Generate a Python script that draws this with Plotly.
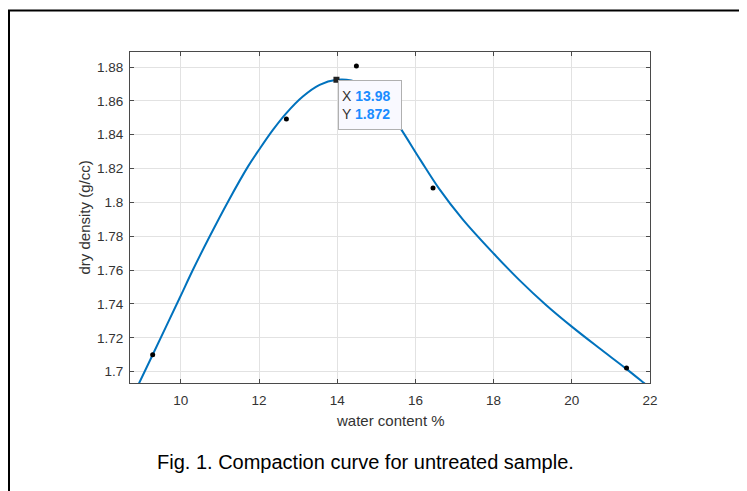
import plotly.graph_objects as go

# Fitted compaction curve
curve_x = [8.80, 8.935, 9.28, 9.97, 10.31, 10.74, 11.21, 11.72, 12.0, 12.36, 12.70,
           13.12, 13.55, 13.98, 14.36, 14.70, 15.0, 15.3, 15.64, 16.13, 16.60, 17.21,
           18.0, 18.66, 19.34, 20.0, 20.69, 21.37, 21.84, 22.0]
curve_y = [1.6868, 1.6933, 1.7100, 1.7435, 1.7602, 1.7800, 1.8006, 1.8213, 1.8311, 1.8430, 1.8528,
           1.8626, 1.8695, 1.8725, 1.8721, 1.8690, 1.8630, 1.8545, 1.8430, 1.8250, 1.8083, 1.7900,
           1.7698, 1.7541, 1.7394, 1.7266, 1.7141, 1.7021, 1.6934, 1.6904]

# Measured points
point_x = [9.28, 12.70, 14.49, 16.45, 21.40]
point_y = [1.7100, 1.8493, 1.8807, 1.8085, 1.7022]

# Data tip
tip_x = 13.98
tip_y = 1.872

x_ticks = [10, 12, 14, 16, 18, 20, 22]
x_ticktext = ["10", "12", "14", "16", "18", "20", "22"]
y_ticks = [1.70, 1.72, 1.74, 1.76, 1.78, 1.80, 1.82, 1.84, 1.86, 1.88]
y_ticktext = ["1.7", "1.72", "1.74", "1.76", "1.78", "1.8", "1.82", "1.84", "1.86", "1.88"]

x_title = "water content %"
y_title = "dry density (g/cc)"
caption = "Fig. 1. Compaction curve for untreated sample."

FONT = "Liberation Sans, Arial, Helvetica, sans-serif"
AXC = "#4a4a4a"

# page body has an 8px margin; figure is sized/offset to compensate
W, H = 739, 483
L, R, T, B = 122, 97, 44, 108
PW, PH = W - L - R, H - T - B

fig = go.Figure()
fig.add_trace(go.Scatter(x=curve_x, y=curve_y, mode="lines",
                         line=dict(color="#0072BD", width=2, shape="spline", smoothing=1.0),
                         hoverinfo="skip", showlegend=False))
fig.add_trace(go.Scatter(x=point_x, y=point_y, mode="markers",
                         marker=dict(color="black", size=5), showlegend=False))
fig.add_trace(go.Scatter(x=[tip_x], y=[1.8725], mode="markers",
                         marker=dict(color="#222", size=6, symbol="square"), showlegend=False))

axis_common = dict(showline=True, linecolor=AXC, linewidth=1, mirror="ticks", ticks="inside",
                   ticklen=4, tickcolor=AXC, showgrid=True, gridcolor="#e2e2e2", gridwidth=1,
                   zeroline=False, tickfont=dict(family=FONT, size=13.5, color="#333333"))

fig.update_xaxes(range=[8.7, 22], tickvals=x_ticks, ticktext=x_ticktext, ticklabelstandoff=5,
                 **axis_common)
fig.update_yaxes(range=[1.6933, 1.8889], tickvals=y_ticks, ticktext=y_ticktext, ticklabelstandoff=3,
                 **axis_common)

# Data tip box
fig.add_annotation(x=tip_x, y=1.8725, xref="x", yref="y", xanchor="left", yanchor="top",
                   xshift=1.5, showarrow=False, align="left", width=56, height=42,
                   borderpad=3, bordercolor="#b0b0b0", borderwidth=1, bgcolor="#f9f9ff",
                   text=("<span style='color:#333333'>X </span><b style='color:#1a8cff'>%.2f</b><br>"
                         "<span style='color:#333333'>Y </span><b style='color:#1a8cff'>%.3f</b>")
                   % (tip_x, tip_y),
                   font=dict(family=FONT, size=14))

# Axis titles
fig.add_annotation(x=0.5, y=-37.4 / PH, xref="paper", yref="paper", showarrow=False,
                   text=x_title, xanchor="center", yanchor="middle",
                   font=dict(family=FONT, size=15, color="#333333"))
fig.add_annotation(x=-46 / PW, y=0.5, xref="paper", yref="paper", showarrow=False,
                   text=y_title, textangle=-90, xanchor="center", yanchor="middle",
                   font=dict(family=FONT, size=15, color="#333333"))

# Caption
fig.add_annotation(x=235 / PW, y=-79.4 / PH, xref="paper", yref="paper", showarrow=False,
                   text=caption, xanchor="center", yanchor="middle",
                   font=dict(family=FONT, size=20, color="black"))

# Outer frame
fig.add_shape(type="rect", xref="paper", yref="paper",
              x0=(1 - L) / PW, x1=(735 - L) / PW,
              y0=-(H + 30 - (T + PH)) / PH, y1=(T + PH - 2.5) / PH,
              line=dict(color="black", width=2), fillcolor="rgba(0,0,0,0)", layer="above")

fig.update_layout(width=W, height=H, margin=dict(l=L, r=R, t=T, b=B),
                  paper_bgcolor="white", plot_bgcolor="white", showlegend=False)

fig.write_html("out.html")
